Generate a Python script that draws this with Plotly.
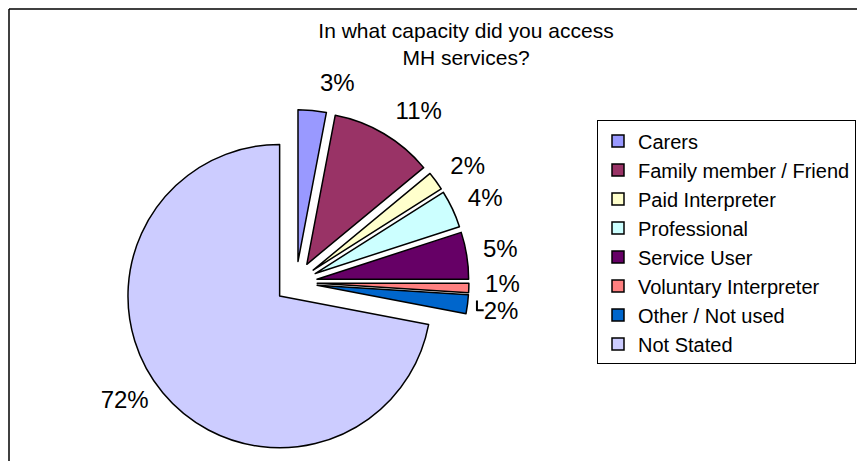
import plotly.graph_objects as go

# page body has an 8px margin; keep the figure so the whole page is 865x473
W, H = 849, 457
OFF = 8  # screen = figure + OFF

categories = ["Carers", "Family member / Friend", "Paid Interpreter", "Professional",
              "Service User", "Voluntary Interpreter", "Other / Not used", "Not Stated"]
percent_values = [3, 11, 2, 4, 5, 1, 2, 72]
slice_colors = ["#9999FF", "#993366", "#FFFFCC", "#CCFFFF",
                "#660066", "#FF8080", "#0066CC", "#CCCCFF"]
title_lines = ["In what capacity did you access", "MH services?"]

# pie geometry (figure pixels)
cx, cy, r, pull = 288, 277, 153, 0.14
half = r * (1 + pull)
# transparent copy that carries the outside labels (a bit larger, a bit higher)
lab_cx, lab_cy, lab_r = 288, 272, 184


def dom(x0, y0, h):
    return dict(x=[max(0, (x0 - h) / W), min(1, (x0 + h) / W)],
                y=[max(0, 1 - (y0 + h) / H), min(1, 1 - (y0 - h) / H)])


fig = go.Figure()
fig.add_trace(go.Pie(
    labels=categories,
    values=percent_values,
    marker=dict(colors=slice_colors, line=dict(color="black", width=1.5)),
    sort=False,
    direction="clockwise",
    rotation=0,
    pull=[pull] * len(percent_values),
    textinfo="none",
    domain=dom(cx, cy, half),
    hoverinfo="label+percent",
))
fig.add_trace(go.Pie(
    labels=categories,
    values=percent_values,
    marker=dict(colors=["rgba(0,0,0,0)"] * len(categories), line=dict(width=0)),
    sort=False,
    direction="clockwise",
    rotation=0,
    texttemplate="%{value}%",
    textposition="outside",
    outsidetextfont=dict(family="Liberation Sans, Arial", size=24, color="black"),
    domain=dom(lab_cx, lab_cy, lab_r),
    showlegend=False,
    hoverinfo="skip",
))

fig.update_layout(
    width=W, height=H,
    margin=dict(l=0, r=0, t=0, b=0),
    paper_bgcolor="white",
    plot_bgcolor="white",
    font=dict(family="Liberation Sans, Arial", color="black"),
    title=dict(text="<br>".join(title_lines), x=(466 - OFF) / W, xanchor="center",
               y=1 - 30 / H, yanchor="top",
               font=dict(size=21, color="black")),
    legend=dict(x=(597 - OFF) / W, xanchor="left", y=1 - (244.5 - OFF) / H, yanchor="middle",
                bordercolor="black", borderwidth=1, bgcolor="white",
                font=dict(size=20, color="black"), traceorder="normal"),
    showlegend=True,
    shapes=[
        dict(type="line", xref="paper", yref="paper", x0=(9 - OFF) / W, x1=1,
             y0=1 - (9 - OFF) / H, y1=1 - (9 - OFF) / H, line=dict(color="black", width=1.5)),
        dict(type="line", xref="paper", yref="paper", x0=(9 - OFF) / W, x1=(9 - OFF) / W,
             y0=1 - (9 - OFF) / H, y1=0, line=dict(color="black", width=1.5)),
    ],
)

fig.write_html("out.html")
